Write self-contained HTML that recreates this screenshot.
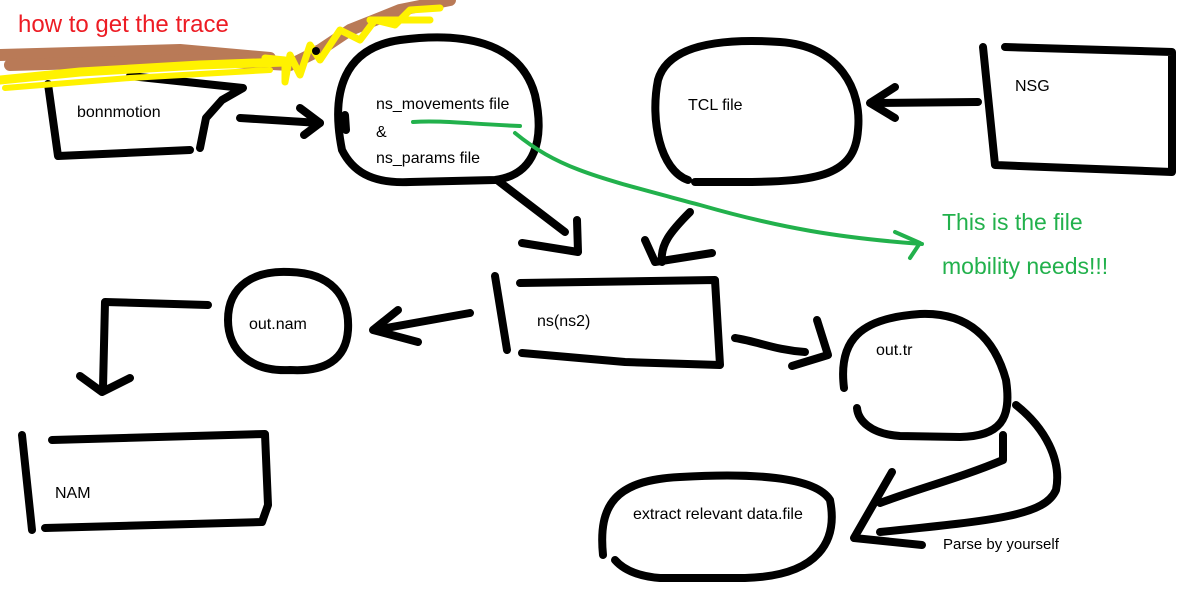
<!DOCTYPE html>
<html><head><meta charset="utf-8"><style>
html,body{margin:0;padding:0;background:#fff;}
svg{display:block;}
text{font-family:"Liberation Sans","DejaVu Sans",sans-serif;}
</style></head><body>
<svg width="1187" height="599" viewBox="0 0 1187 599" xmlns="http://www.w3.org/2000/svg">
<rect width="1187" height="599" fill="#fff"/>
<g fill="none" stroke="#000" stroke-width="8" stroke-linecap="round" stroke-linejoin="round">
<path d="M48,84 L58,156 L190,150"/>
<path d="M200,148 L206,118 L222,100 L243,88 L130,76"/>
<path d="M240,118 L320,123"/><path d="M300,108 L320,123 L304,135"/>
<path d="M342,150 C330,90 345,48 400,40 C460,32 520,40 535,95 C545,140 535,175 495,180 L410,182 C370,184 352,170 342,150"/>
<path d="M345,115 L346,130"/>
<path d="M688,180 C660,170 650,120 658,80 C668,45 720,38 780,42 C840,46 862,90 858,130 C855,175 820,182 740,182 L695,182"/>
<path d="M983,47 L995,165 L1172,172 L1172,52 L1005,47"/>
<path d="M978,102 L872,103"/><path d="M895,87 L870,103 L895,118"/>
<path d="M497,180 L565,232"/><path d="M522,243 L578,252 L577,220"/>
<path d="M690,212 C670,232 660,245 662,262"/><path d="M645,240 L655,262 L712,253"/>
<path d="M495,276 L507,350"/>
<path d="M520,283 L715,280 L720,365 L625,362 L522,353"/>
<path d="M290,370 C250,372 228,350 228,320 C228,285 255,270 290,272 C330,273 350,295 348,330 C346,360 325,372 290,370"/>
<path d="M470,313 L375,330"/><path d="M398,310 L373,330 L418,342"/>
<path d="M208,305 L105,302 L103,388"/><path d="M80,376 L102,392 L130,378"/>
<path d="M22,435 L32,530"/>
<path d="M52,440 L265,434 L268,505 L262,522 L45,528"/>
<path d="M735,338 C760,342 775,350 805,352"/><path d="M817,320 L828,355 L792,366"/>
<path d="M844,388 C838,340 860,318 920,314 C970,312 995,340 1006,380 C1012,420 1000,436 960,437 L900,436 C870,434 858,420 857,408"/>
<path d="M1003,435 L1003,460 C960,478 920,488 880,503"/>
<path d="M1016,405 C1045,428 1062,460 1056,490 C1045,515 1000,520 880,532"/>
<path d="M892,472 L854,538 L922,545"/>
<path d="M603,555 C598,505 615,480 680,477 C750,473 815,476 830,500 C838,540 820,576 745,578 L660,578 C635,576 622,568 615,560"/>
</g>
<g fill="none" stroke="#22b14c" stroke-width="4" stroke-linecap="round" stroke-linejoin="round">
<path d="M413,122 C440,120 470,124 520,126"/>
<path d="M515,133 C560,170 600,178 700,205 C780,228 840,238 922,244"/>
<path d="M895,232 L920,243 L910,258"/>
</g>
<g fill="none" stroke-linecap="round" stroke-linejoin="round">
<path d="M0,55 L180,50 L270,58" stroke="#b97a57" stroke-width="12"/>
<path d="M10,65 L200,60 L290,65 L320,50 L350,30 L400,10 L450,0" stroke="#b97a57" stroke-width="12"/>
<path d="M0,80 L80,72 L200,65 L285,62" stroke="#fff200" stroke-width="9"/>
<path d="M5,88 L130,78 L270,70" stroke="#fff200" stroke-width="6"/>
<path d="M265,58 L285,60 L285,82 L290,55 L300,75 L310,45 L320,60 L340,30 L360,40 L375,20 L395,25 L410,10 L440,8 M370,20 L430,20" stroke="#fff200" stroke-width="7"/>
</g>
<circle cx="316" cy="51" r="4" fill="#000"/>
<text x="18" y="32" font-size="24" fill="#ed1c24">how to get the trace</text>
<g font-size="16" fill="#000">
<text x="77" y="117">bonnmotion</text>
<text x="376" y="109">ns_movements file</text>
<text x="376" y="137">&amp;</text>
<text x="376" y="163">ns_params file</text>
<text x="688" y="110">TCL file</text>
<text x="1015" y="91">NSG</text>
<text x="537" y="326">ns(ns2)</text>
<text x="249" y="329">out.nam</text>
<text x="876" y="355">out.tr</text>
<text x="55" y="498">NAM</text>
<text x="633" y="519">extract relevant data.file</text>
<text x="943" y="549" font-size="15">Parse by yourself</text>
</g>
<text x="942" y="230" font-size="23" fill="#22b14c">This is the file</text>
<text x="942" y="274" font-size="23" fill="#22b14c">mobility needs!!!</text>
</svg>
</body></html>
